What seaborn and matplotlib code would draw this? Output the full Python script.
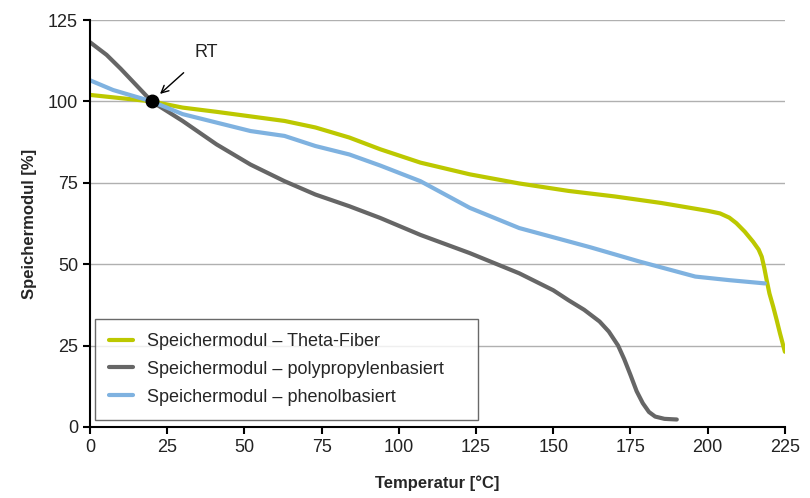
import pandas as pd
import seaborn as sns
import matplotlib.pyplot as plt

# Storage modulus data
theta_temp = [0, 10, 20, 30, 41, 52, 63, 73, 84, 94, 107, 123, 139, 155, 170, 185, 200, 204,
              207, 209.3, 212, 214.7, 216.5, 217.5, 218.3, 219.1, 220, 221.2, 222.3, 223.4, 225]
theta_mod = [102, 101, 100, 98.1, 96.8, 95.4, 94, 92, 88.9, 85.3, 81.2, 77.6, 74.8, 72.5, 70.8,
             68.8, 66.4, 65.6, 64.3, 62.6, 60, 56.9, 54.5, 52.3, 49, 45.1, 41, 37, 33, 28.8, 23.1]

pp_temp = [0, 5.4, 10, 15, 20, 30, 41, 52, 63, 73, 84, 94, 107, 123, 139, 150, 155, 160, 165,
           168, 171, 173, 175, 177, 179, 181, 183, 186, 190]
pp_mod = [118.2, 114.3, 110, 105, 100, 94, 86.8, 80.6, 75.5, 71.4, 67.8, 64.2, 59, 53.4, 47.2,
          42, 38.9, 36, 32.4, 29.3, 25, 20.8, 16, 11, 7.3, 4.6, 3.2, 2.5, 2.3]

phenol_temp = [0, 7.5, 20, 30, 41, 52, 63, 73, 84, 94, 107, 123, 139, 155, 162, 178, 196, 207, 218.5]
phenol_mod = [106.5, 103.5, 100, 96.1, 93.5, 90.9, 89.4, 86.3, 83.7, 80.3, 75.5, 67.3, 61.1, 57,
              55.2, 50.8, 46.2, 45.1, 44.1]

series_names = ['Speichermodul – Theta-Fiber',
                'Speichermodul – polypropylenbasiert',
                'Speichermodul – phenolbasiert']
colors = ['#bcc800', '#666666', '#7fb2e0']

rt_temp = [20]
rt_mod = [100]

df = pd.concat([
    pd.DataFrame({'T': theta_temp, 'E': theta_mod, 'Serie': series_names[0]}),
    pd.DataFrame({'T': pp_temp, 'E': pp_mod, 'Serie': series_names[1]}),
    pd.DataFrame({'T': phenol_temp, 'E': phenol_mod, 'Serie': series_names[2]}),
])

sns.set_theme(style="white")
plt.rcParams['font.family'] = ['Liberation Sans', 'DejaVu Sans']

fig = plt.figure(figsize=(8.1, 4.98), dpi=100)
ax = fig.add_axes([0.111, 0.1426, 0.858, 0.8172])

sns.lineplot(data=df, x='T', y='E', hue='Serie', palette=dict(zip(series_names, colors)),
             sort=False, estimator=None, linewidth=3, ax=ax, legend=False)

ax.plot(rt_temp, rt_mod, 'o', color='black', markersize=9, zorder=5)
ax.annotate('RT', xy=(22.7, 102.3), xytext=(37.6, 115.0), fontsize=13, ha='center', va='center',
            color='#222222',
            arrowprops=dict(arrowstyle='->', color='black', lw=1, shrinkA=9, shrinkB=0))

ax.set_xlim(0, 225)
ax.set_ylim(0, 125)
ax.set_xticks(range(0, 226, 25))
ax.set_yticks(range(0, 126, 25))
ax.yaxis.grid(True, color='#b0b0b0', linewidth=1)
ax.set_axisbelow(True)
for s in ['top', 'right']:
    ax.spines[s].set_visible(False)
for s in ['left', 'bottom']:
    ax.spines[s].set_color('black')
    ax.spines[s].set_linewidth(1.5)
ax.tick_params(axis='both', direction='out', length=5, width=1.5, color='black',
               labelsize=13, labelcolor='#222222', bottom=True, left=True)

ax.set_xlabel('Temperatur [°C]', fontsize=12, fontweight='bold', labelpad=14)
ax.set_ylabel('Speichermodul [%]', fontsize=12, fontweight='bold', labelpad=8)

handles = [plt.Line2D([], [], color=c, linewidth=3) for c in colors]
leg = ax.legend(handles, series_names, loc='lower left', bbox_to_anchor=(0.007, 0.017, 0.551, 0.25),
                mode='expand', fontsize=13, frameon=True, fancybox=False, handlelength=1.3,
                borderpad=0.8, labelspacing=0.6, handletextpad=0.8, borderaxespad=0)
leg.get_frame().set_edgecolor('#444444')
leg.get_frame().set_linewidth(1)

plt.savefig('out.png', dpi=100)
